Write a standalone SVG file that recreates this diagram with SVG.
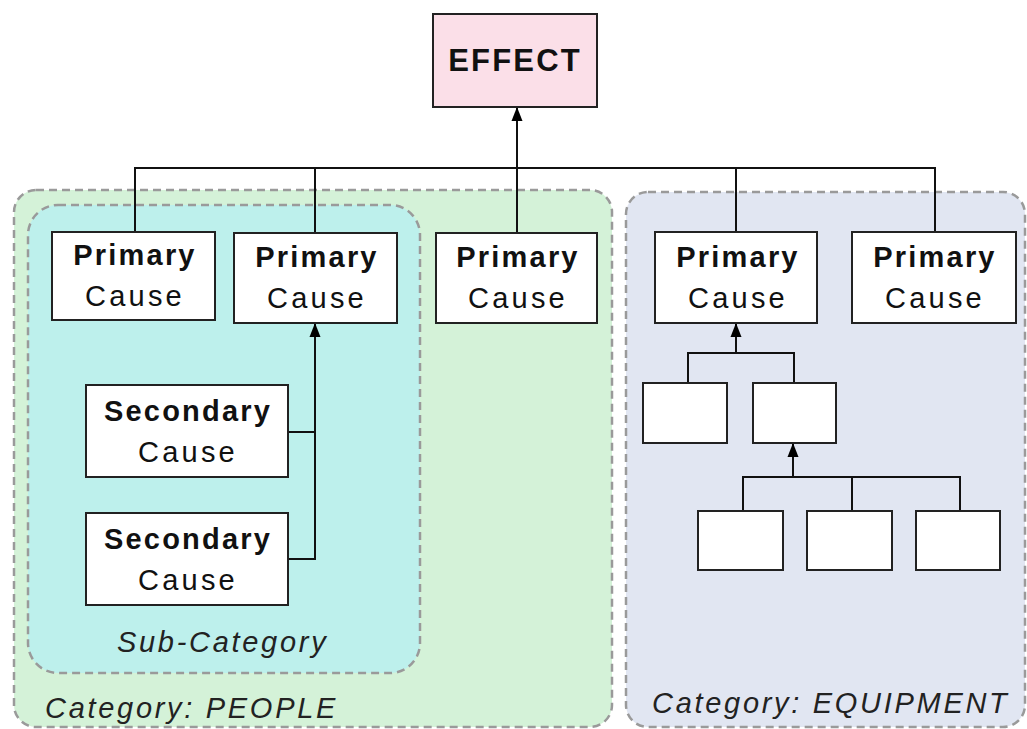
<svg xmlns="http://www.w3.org/2000/svg" width="1027" height="729" viewBox="0 0 1027 729">
<defs>
<marker id="arr" viewBox="0 0 14 12" refX="14" refY="6" markerWidth="14" markerHeight="12" markerUnits="userSpaceOnUse" orient="auto">
<path d="M0,0.5 L14,6 L0,11.5 Z" fill="#000"/>
</marker>
</defs>
<style>
.box{fill:#fff;stroke:#222;stroke-width:2}
.cat{stroke:#9a9a9a;stroke-width:2.5;stroke-dasharray:8 5}
.b{font-family:"Liberation Sans",Arial,sans-serif;font-weight:bold;font-size:29px;letter-spacing:2.2px;fill:#111;text-anchor:middle}
.r{font-family:"Liberation Sans",Arial,sans-serif;font-size:29px;letter-spacing:3.2px;fill:#111;text-anchor:middle}
.i{font-family:"Liberation Sans",Arial,sans-serif;font-style:italic;font-size:29px;letter-spacing:2.7px;fill:#222}
.ln{fill:none;stroke:#111;stroke-width:2}
</style>
<rect width="1027" height="729" fill="#fff"/>
<g id="cat-people">
<rect class="cat" x="14" y="190" width="598" height="537" rx="22" fill="#d4f2d8"/>
<text class="i" x="45" y="718">Category: PEOPLE</text>
</g>
<g id="cat-equipment">
<rect class="cat" x="626" y="192" width="399" height="535" rx="22" fill="#e1e6f2"/>
<text class="i" x="652" y="713">Category: EQUIPMENT</text>
</g>
<g id="sub-category">
<rect class="cat" x="28" y="205" width="392" height="468" rx="30" fill="#bdf0ec"/>
<text class="i" x="117" y="652">Sub-Category</text>
</g>
<g id="connectors">
<path class="ln" d="M135,232 V168 H935 V232 M315,168 V233 M736,168 V232"/>
<path class="ln" d="M517,233 V107" marker-end="url(#arr)"/>
<path class="ln" d="M288,432 H315 M288,559 H315 V323" marker-end="url(#arr)"/>
<path class="ln" d="M688,383 V353 H794 V383 M736,353 V323" marker-end="url(#arr)"/>
<path class="ln" d="M743,511 V477 H960 V511 M852,477 V511 M793,477 V443" marker-end="url(#arr)"/>
</g>
<g id="effect">
<rect x="433" y="14" width="164" height="93" fill="#fbdfe8" stroke="#222" stroke-width="2"/>
<text class="b" x="515" y="71" style="font-size:31px;letter-spacing:2.2px">EFFECT</text>
</g>
<g id="primary1">
<rect class="box" x="52" y="232" width="163" height="88"/>
<text class="b" x="135" y="265">Primary</text>
<text class="r" x="135" y="306">Cause</text>
</g>
<g id="primary2">
<rect class="box" x="234" y="233" width="163" height="90"/>
<text class="b" x="317" y="267">Primary</text>
<text class="r" x="317" y="308">Cause</text>
</g>
<g id="primary3">
<rect class="box" x="436" y="233" width="161" height="90"/>
<text class="b" x="518" y="267">Primary</text>
<text class="r" x="518" y="308">Cause</text>
</g>
<g id="primary4">
<rect class="box" x="655" y="232" width="162" height="91"/>
<text class="b" x="738" y="267">Primary</text>
<text class="r" x="738" y="308">Cause</text>
</g>
<g id="primary5">
<rect class="box" x="852" y="232" width="164" height="91"/>
<text class="b" x="935" y="267">Primary</text>
<text class="r" x="935" y="308">Cause</text>
</g>
<g id="secondary1">
<rect class="box" x="86" y="385" width="202" height="92"/>
<text class="b" x="188" y="421">Secondary</text>
<text class="r" x="188" y="462">Cause</text>
</g>
<g id="secondary2">
<rect class="box" x="86" y="513" width="202" height="92"/>
<text class="b" x="188" y="549">Secondary</text>
<text class="r" x="188" y="590">Cause</text>
</g>
<g id="sub-a"><rect class="box" x="643" y="383" width="84" height="60"/></g>
<g id="sub-b"><rect class="box" x="753" y="383" width="83" height="60"/></g>
<g id="sub-c"><rect class="box" x="698" y="511" width="85" height="59"/></g>
<g id="sub-d"><rect class="box" x="807" y="511" width="85" height="59"/></g>
<g id="sub-e"><rect class="box" x="916" y="511" width="84" height="59"/></g>
</svg>
